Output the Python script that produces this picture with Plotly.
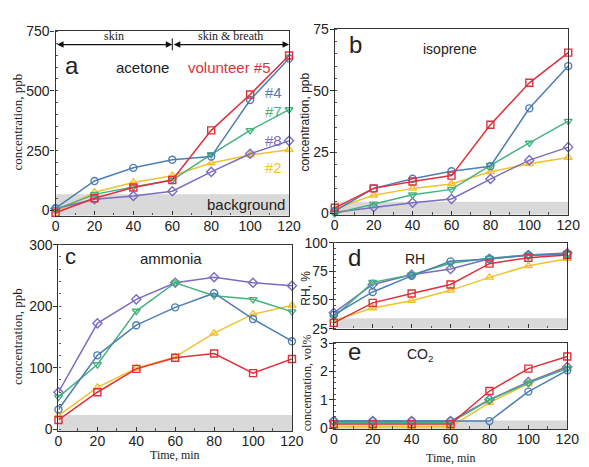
import plotly.graph_objects as go

time = [0, 20, 40, 60, 80, 100, 120]

series_names = ["#2", "#8", "#7", "#4", "#5"]
series_colors = ["#f2c12e", "#7a6cc0", "#45b37e", "#4d7fb3", "#e0303c"]
series_symbols = ["triangle-up-open", "diamond-open", "triangle-down-open", "circle-open", "square-open"]

# acetone (ppb)
acetone_2 = [-7, 76, 117, 145, 198, 232, 254]
acetone_8 = [7, 47, 60, 80, 161, 237, 291]
acetone_7 = [4, 67, 98, 127, 234, 335, 422]
acetone_4 = [9, 123, 178, 212, 225, 462, 636]
acetone_5 = [-10, 51, 96, 127, 335, 485, 648]

# isoprene (ppb)
isoprene_2 = [2, 7.4, 10.2, 12, 17, 20.2, 22.8]
isoprene_8 = [0.5, 2.6, 4.4, 5.9, 14, 21.7, 27]
isoprene_7 = [0, 3.9, 7.6, 9.8, 19.6, 28.7, 37.6]
isoprene_4 = [1, 10.2, 14.1, 17.2, 19.2, 42.8, 60]
isoprene_5 = [2.3, 10.2, 13, 15.4, 36.1, 53.2, 65.5]

# ammonia (ppb)
ammonia_2 = [22, 68, 99, 117.5, 156, 187, 201]
ammonia_8 = [60, 172, 211, 238, 247, 238, 233]
ammonia_7 = [52, 105, 192, 238, 217, 211, 191]
ammonia_4 = [32, 120, 169, 198, 221, 179, 143]
ammonia_5 = [15, 60, 98, 116, 123, 91, 114]

# RH (%)
rh_2 = [32, 43, 49.4, 58.4, 69.7, 79.8, 86]
rh_8 = [38.8, 63.5, 72, 77, 86, 89.3, 91]
rh_7 = [35, 65.4, 72, 82, 86.5, 89.3, 90]
rh_4 = [37, 57, 71, 83.7, 85.7, 89, 90]
rh_5 = [30, 47.5, 55.6, 63.5, 81.7, 86.8, 89.3]

# CO2 (vol%)
co2_2 = [0.05, 0.05, 0.05, 0.05, 0.9, 1.57, 2.2]
co2_8 = [0.25, 0.25, 0.25, 0.25, 1.01, 1.63, 2.16]
co2_7 = [0.2, 0.2, 0.2, 0.2, 0.99, 1.6, 2.1]
co2_4 = [0.25, 0.25, 0.25, 0.25, 0.25, 1.29, 2.04]
co2_5 = [0.15, 0.15, 0.15, 0.15, 1.31, 2.1, 2.53]

background = {"a": 67, "b": 4.8, "c": 23, "d": 34, "e": 0.27}

W, H = 589, 467

def px_dom_x(l, r):
    return [l / W, r / W]

def px_dom_y(bottom, top):
    return [(H - bottom) / H, (H - top) / H]

panels = {
    "a": dict(ax="", x=px_dom_x(53, 293), y=px_dom_y(215, 24), yr=[-22, 750], dt=250,
              data=[acetone_2, acetone_8, acetone_7, acetone_4, acetone_5], xlabels=True),
    "b": dict(ax="2", x=px_dom_x(340, 580), y=px_dom_y(214, 22), yr=[-0.5, 75], dt=25,
              data=[isoprene_2, isoprene_8, isoprene_7, isoprene_4, isoprene_5], xlabels=True),
    "c": dict(ax="3", x=px_dom_x(56, 296), y=px_dom_y(438, 245), yr=[-3, 300], dt=100,
              data=[ammonia_2, ammonia_8, ammonia_7, ammonia_4, ammonia_5], xlabels=True),
    "d": dict(ax="4", x=px_dom_x(339, 579), y=px_dom_y(332, 243), yr=[25, 100], dt=25,
              data=[rh_2, rh_8, rh_7, rh_4, rh_5], xlabels=False),
    "e": dict(ax="5", x=px_dom_x(339, 579), y=px_dom_y(436, 347), yr=[-0.03, 3], dt=1,
              data=[co2_2, co2_8, co2_7, co2_4, co2_5], xlabels=True),
}

fig = go.Figure()
layout = dict(width=W, height=H, margin=dict(l=0, r=0, t=0, b=0),
              paper_bgcolor="white", plot_bgcolor="white", showlegend=False,
              font=dict(family="Liberation Sans, Arial", size=13, color="#222"))
shapes = []
annotations = []
tickfont = dict(family="Liberation Sans, Arial", size=14, color="#222")

for key, p in panels.items():
    ax = p["ax"]
    xa = "x" + ax
    ya = "y" + ax
    for name, col, sym, vals in zip(series_names, series_colors, series_symbols, p["data"]):
        fig.add_trace(go.Scatter(
            x=time, y=vals, xaxis=xa, yaxis=ya, mode="lines+markers", name=name,
            line=dict(color=col, width=1.5),
            marker=dict(symbol=sym, size=7, color=col, line=dict(width=1.4, color=col)),
            cliponaxis=False))
    layout["xaxis" + ax] = dict(
        domain=p["x"], anchor=ya, range=[0, 120], tickvals=time,
        showticklabels=p["xlabels"], ticks="inside", ticklen=4, tickcolor="#333",
        minor=dict(ticks="inside", ticklen=2.5, dtick=10, tick0=0, tickcolor="#555"),
        showline=True, linecolor="#333", linewidth=1.3, mirror=True,
        showgrid=False, zeroline=False, tickfont=tickfont, fixedrange=True,
        ticklabelstandoff=-3)
    layout["yaxis" + ax] = dict(
        domain=p["y"], anchor=xa, range=p["yr"], tick0=0, dtick=p["dt"],
        ticks="outside", ticklen=4, tickcolor="#333",
        minor=dict(ticks="inside", ticklen=2.5, tickcolor="#555"),
        showline=True, linecolor="#333", linewidth=1.3, mirror=True,
        showgrid=False, zeroline=False, tickfont=tickfont, fixedrange=True,
        ticklabelstandoff=-2)
    if key == "d":
        layout["yaxis" + ax]["tick0"] = 25
    shapes.append(dict(type="rect", xref=xa, yref=ya, x0=0, x1=120,
                       y0=p["yr"][0], y1=background[key],
                       fillcolor="#d9d9d9", line=dict(width=0), layer="below"))

# Panel letters and titles
def pann(text, x, y, size, color="#222", family="Liberation Sans, Arial"):
    annotations.append(dict(text=text, x=x / W, y=(H - y) / H, xref="paper", yref="paper",
                            showarrow=False, font=dict(size=size, color=color, family=family),
                            xanchor="center", yanchor="middle"))

pann("a", 70, 60, 24)
pann("acetone", 142, 62, 15)
pann("volunteer #5", 232, 62, 15, "#e0303c")
pann("#4", 277, 87, 15, "#4d7fb3")
pann("#7", 277, 107, 15, "#45b37e")
pann("#8", 277, 137, 15, "#7a6cc0")
pann("#2", 277, 165, 15, "#f2c12e")
pann("background", 249, 203, 15)
pann("b", 361, 38, 24)
pann("isoprene", 458, 42, 14)
pann("c", 68, 257, 22)
pann("ammonia", 172, 259, 15)
pann("d", 360, 258, 24)
pann("RH", 422, 260, 14)
pann("e", 360, 356, 24)
pann("CO<sub>2</sub>", 428, 359, 14)

serif = "Liberation Serif, Times New Roman"
# axis titles
def vtitle(text, x, y, size, family):
    annotations.append(dict(text=text, x=x / W, y=(H - y) / H, xref="paper", yref="paper",
                            showarrow=False, textangle=-90,
                            font=dict(size=size, color="#222", family=family),
                            xanchor="center", yanchor="middle"))

vtitle("concentration, ppb", 14, 118, 13, serif)
vtitle("concentration, ppb", 309, 118, 12, "Liberation Sans, Arial")
vtitle("concentration, ppb", 14, 340, 13, serif)
vtitle("RH, %", 310, 290, 12, "Liberation Sans, Arial")
vtitle("concentration, vol%", 311, 388, 12, serif)
pann("Time, min", 176, 463, 12, family=serif)
pann("Time, min", 459, 466, 12, family=serif)

# skin / skin & breath arrows (panel a, data coords)
for x0, x1, label in [(0, 60, "skin"), (60, 120, "skin & breath")]:
    annotations.append(dict(x=x1, y=694, ax=x0, ay=694, xref="x", yref="y",
                            axref="x", ayref="y", text="", showarrow=True,
                            arrowhead=2, arrowsize=1, arrowwidth=1.3, arrowcolor="#111",
                            arrowside="end+start", standoff=0, startstandoff=0))
    annotations.append(dict(x=(x0 + x1) / 2, y=728, xref="x", yref="y", text=label,
                            showarrow=False, font=dict(size=12, family=serif, color="#222")))
shapes.append(dict(type="line", xref="x", yref="y", x0=60, x1=60, y0=670, y1=720,
                   line=dict(color="#111", width=1)))

layout["shapes"] = shapes
layout["annotations"] = annotations
fig.update_layout(**layout)
fig.write_html("out.html", config={"displayModeBar": False},
               post_script="document.body.style.margin='0';document.body.style.overflow='hidden';")
